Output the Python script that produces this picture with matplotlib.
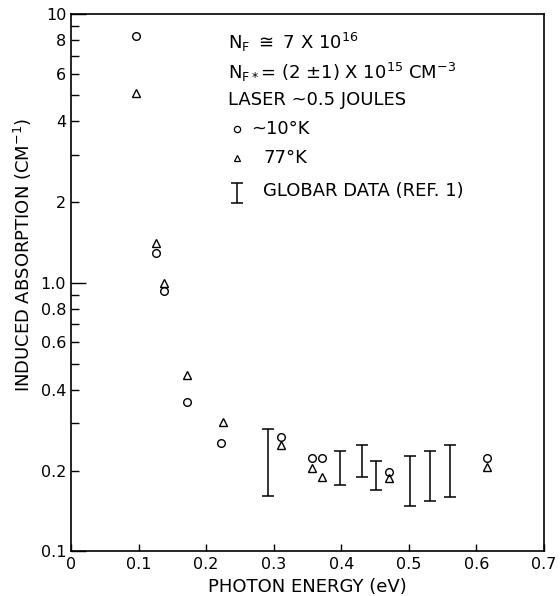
import matplotlib
matplotlib.use("Agg")
import matplotlib.pyplot as plt
from matplotlib.ticker import FixedLocator, FixedFormatter, NullFormatter

plt.rcParams['font.family'] = ['DejaVu Sans']
plt.rcParams['mathtext.default'] = 'regular'

# ~10 K (circles)
x_10k = [0.096, 0.126, 0.137, 0.171, 0.222, 0.311, 0.357, 0.371, 0.470, 0.615]
y_10k = [8.28, 1.29, 0.93, 0.36, 0.253, 0.267, 0.222, 0.222, 0.197, 0.223]

# 77 K (triangles)
x_77k = [0.096, 0.126, 0.137, 0.171, 0.225, 0.311, 0.357, 0.371, 0.470, 0.615]
y_77k = [5.1, 1.41, 1.0, 0.452, 0.303, 0.248, 0.204, 0.190, 0.187, 0.207]

# Globar data (ref. 1): ranges
x_glob = [0.291, 0.398, 0.431, 0.452, 0.501, 0.531, 0.561]
lo_glob = [0.161, 0.177, 0.189, 0.169, 0.148, 0.154, 0.159]
hi_glob = [0.285, 0.236, 0.248, 0.218, 0.226, 0.236, 0.248]

x_ticks = [0, 0.1, 0.2, 0.3, 0.4, 0.5, 0.6, 0.7]
x_labels = ['0', '0.1', '0.2', '0.3', '0.4', '0.5', '0.6', '0.7']
y_major = [0.1, 1.0, 10]
y_major_labels = ['0.1', '1.0', '10']
y_minor = [0.2, 0.3, 0.4, 0.5, 0.6, 0.7, 0.8, 0.9, 2, 3, 4, 5, 6, 7, 8, 9]
y_minor_labels = ['0.2', '', '0.4', '', '0.6', '', '0.8', '', '2', '', '4', '', '6', '', '8', '']

fig = plt.figure(figsize=(5.6, 5.96), dpi=100)
ax = fig.add_axes([0.1268, 0.0747, 0.8446, 0.9018])

ax.set_yscale('log')
ax.set_xlim(0, 0.7)
ax.set_ylim(0.1, 10)

ax.plot(x_10k, y_10k, 'o', mfc='none', mec='black', ms=5.5, mew=1.0)
ax.plot(x_77k, y_77k, '^', mfc='none', mec='black', ms=6, mew=1.0)

yerr = [[0] * len(x_glob), [h - l for h, l in zip(hi_glob, lo_glob)]]
ax.errorbar(x_glob, lo_glob, yerr=yerr, fmt='none', ecolor='black',
            elinewidth=1.1, capsize=4, capthick=1.1)

ax.set_xticks(x_ticks)
ax.set_xticklabels(x_labels)
ax.yaxis.set_major_locator(FixedLocator(y_major))
ax.yaxis.set_major_formatter(FixedFormatter(y_major_labels))
ax.yaxis.set_minor_locator(FixedLocator(y_minor))
ax.yaxis.set_minor_formatter(FixedFormatter(y_minor_labels))
ax.xaxis.set_minor_formatter(NullFormatter())

ax.tick_params(axis='x', direction='in', length=5, width=1, labelsize=11.5, pad=4)
ax.tick_params(axis='y', which='major', direction='in', length=11, width=1, labelsize=11.5)
ax.tick_params(axis='y', which='minor', direction='in', length=6, width=1, labelsize=11.5)
for s in ax.spines.values():
    s.set_linewidth(1.2)

ax.set_xlabel('PHOTON ENERGY (eV)', fontsize=13, labelpad=4)
ax.set_ylabel('INDUCED ABSORPTION (CM$^{-1}$)', fontsize=13)
ax.yaxis.set_label_coords(-0.078, 0.552)

# annotation block (axes coordinates)
fs = 13
tr = ax.transAxes
ax.text(0.332, 0.948, r'N$_F$ $\cong$ 7 X 10$^{16}$', transform=tr, fontsize=fs, va='center')
ax.text(0.332, 0.892, r'N$_{F*}$= (2 $\pm$1) X 10$^{15}$ CM$^{-3}$', transform=tr, fontsize=fs, va='center')
ax.text(0.332, 0.840, 'LASER ~0.5 JOULES', transform=tr, fontsize=fs, va='center')
ax.plot([0.350], [0.786], 'o', transform=tr, mfc='none', mec='black', ms=4.5, mew=0.9)
ax.text(0.380, 0.786, '~10°K', transform=tr, fontsize=fs, va='center')
ax.plot([0.350], [0.732], '^', transform=tr, mfc='none', mec='black', ms=4.5, mew=0.9)
ax.text(0.406, 0.732, '77°K', transform=tr, fontsize=fs, va='center')
ax.errorbar([0.350], [0.648], yerr=[[0], [0.037]], transform=tr, fmt='none',
            ecolor='black', elinewidth=1.1, capsize=4, capthick=1.1)
ax.text(0.406, 0.670, 'GLOBAR DATA (REF. 1)', transform=tr, fontsize=fs, va='center')

fig.savefig('out.png', dpi=100)
